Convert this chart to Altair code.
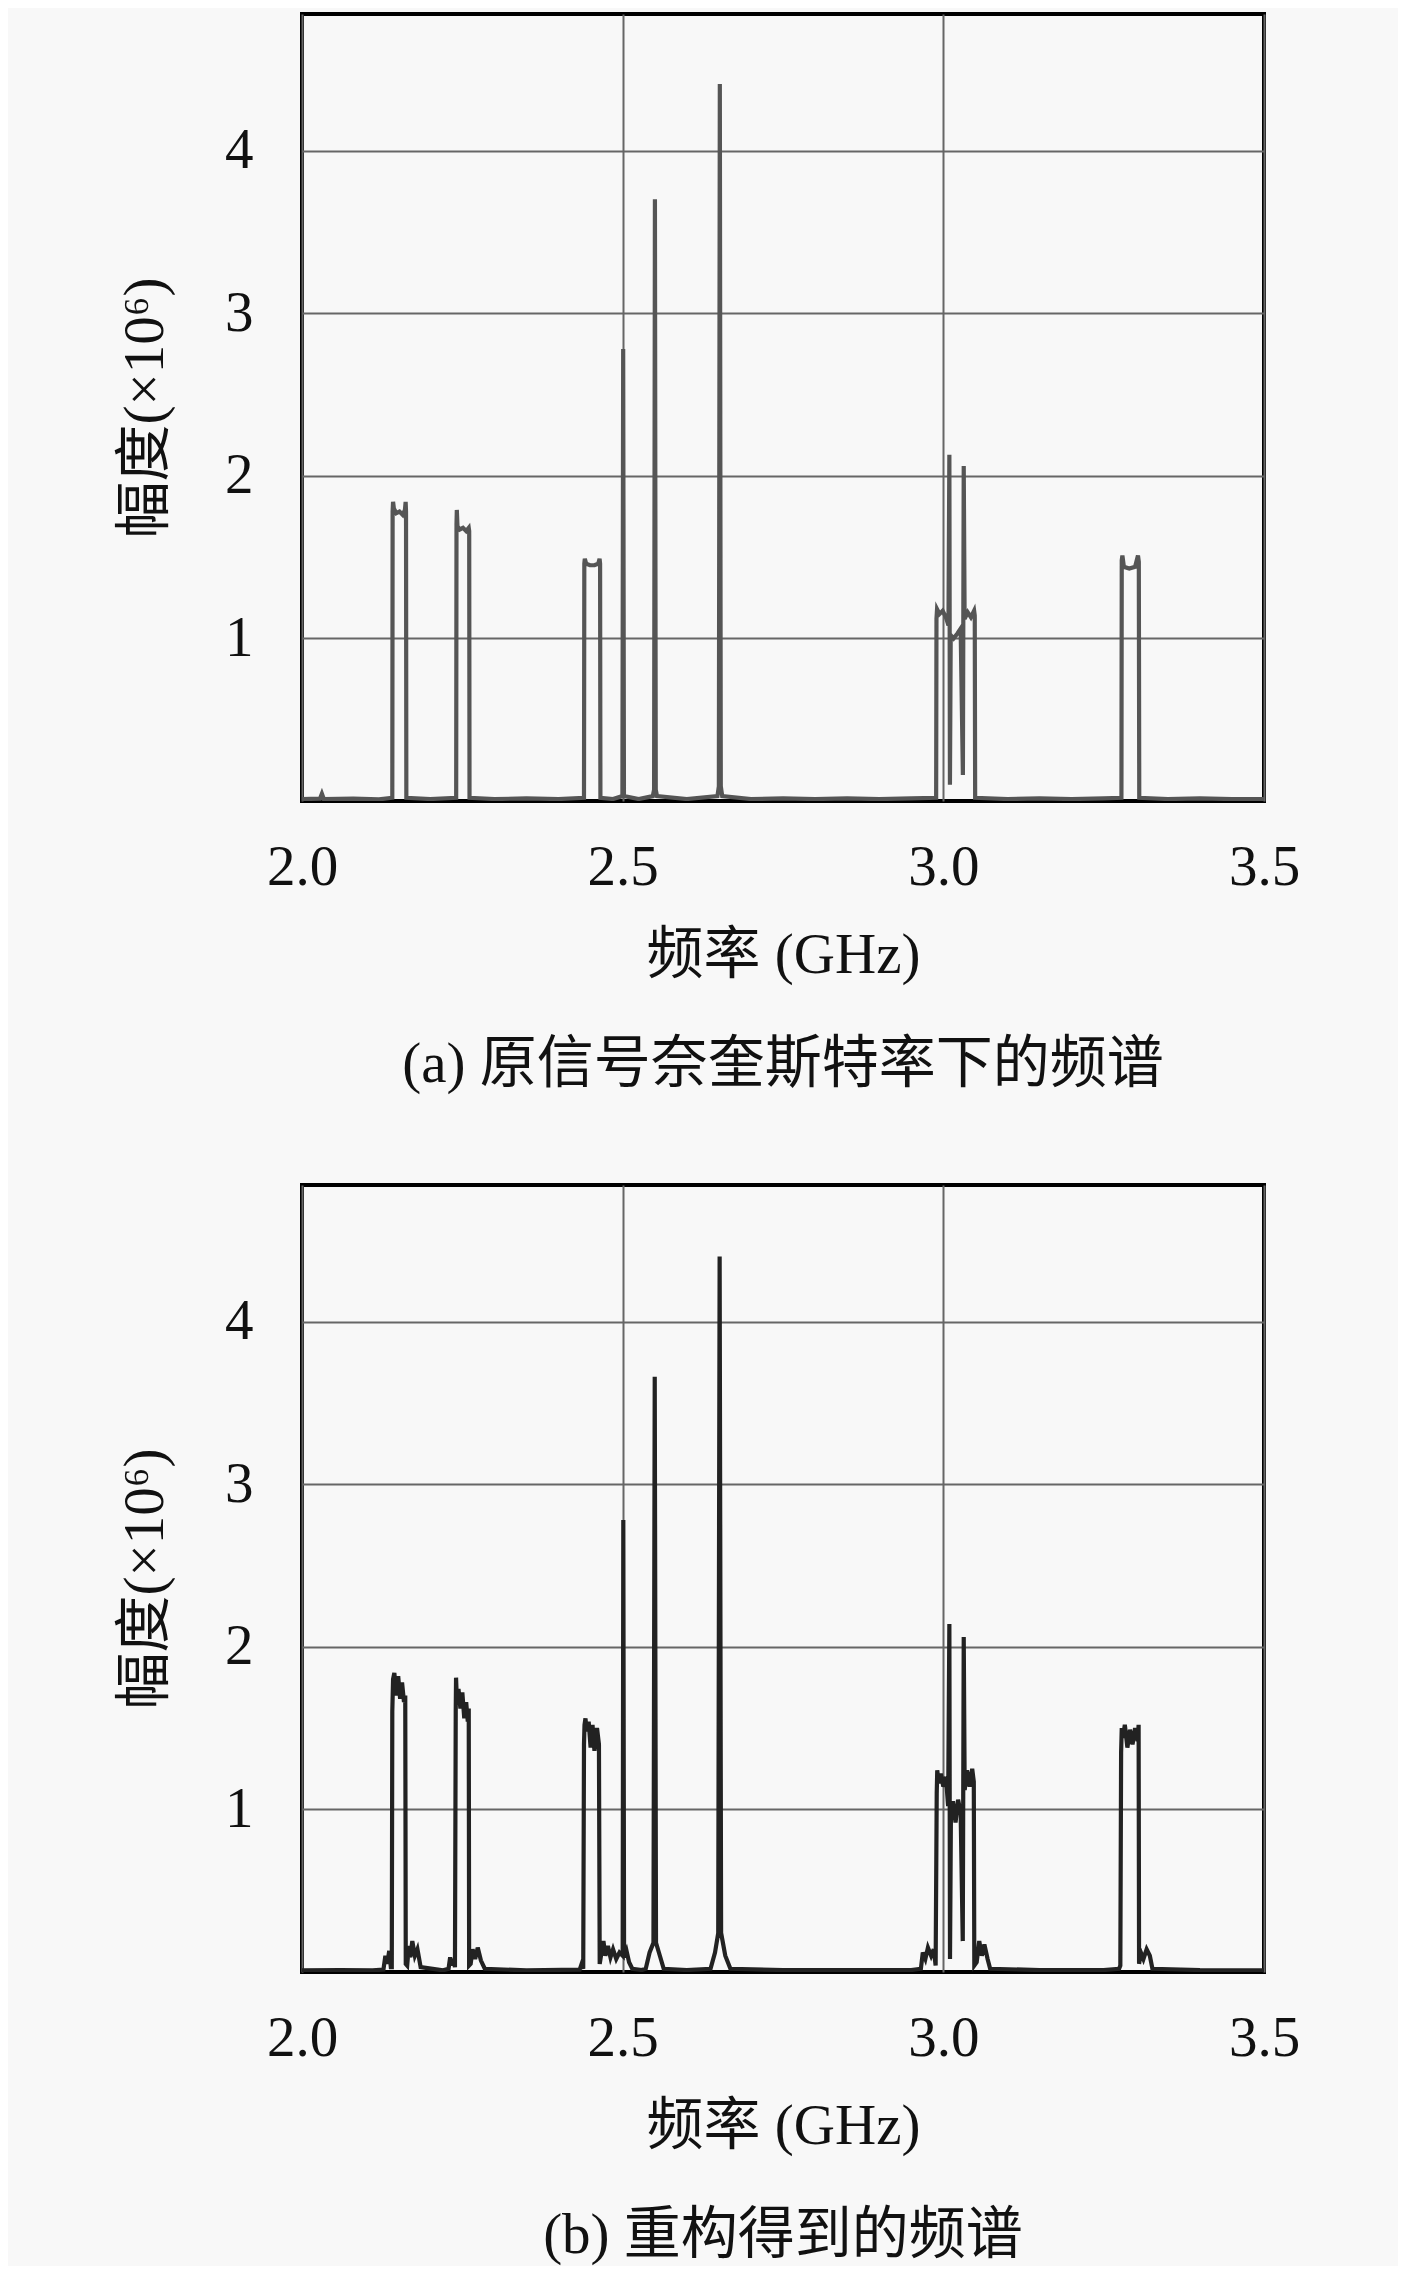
import altair as alt
import pandas as pd

# ---------------- data ----------------
x_ticks = [2.0, 2.5, 3.0, 3.5]
y_ticks = [1, 2, 3, 4]
x_title = "频率 (GHz)"
y_title = "幅度(×10⁶)"
caption_a = "(a) 原信号奈奎斯特率下的频谱"
caption_b = "(b) 重构得到的频谱"

# (a) spectrum at Nyquist rate
freq_a = [
    2.000, 2.028, 2.031, 2.034, 2.080, 2.120,
    2.1408, 2.1413, 2.1420, 2.1432, 2.1470, 2.1520, 2.1570, 2.1605, 2.1616, 2.1622, 2.1627,
    2.200,
    2.2404, 2.2409, 2.2414, 2.2424, 2.2460, 2.2510, 2.2560, 2.2600, 2.2607, 2.2612,
    2.300, 2.350, 2.400,
    2.4397, 2.4402, 2.4410, 2.4430, 2.4490, 2.4560, 2.4620, 2.4640, 2.4648, 2.4653,
    2.485, 2.4996, 2.5008, 2.5020, 2.525,
    2.5470, 2.5490, 2.5503, 2.5516, 2.5535, 2.600,
    2.6478, 2.6500, 2.6515, 2.6530, 2.6552,
    2.700, 2.750, 2.800, 2.850, 2.900, 2.950,
    2.9888, 2.9893, 2.9902, 2.9940, 2.9990, 3.0040, 3.0080, 3.0094, 3.0103, 3.0115,
    3.0160, 3.0220, 3.0270, 3.0305, 3.0318, 3.0332, 3.0380, 3.0430, 3.0480, 3.0490, 3.0496,
    3.100, 3.150, 3.200, 3.250,
    3.2777, 3.2782, 3.2792, 3.2815, 3.2900, 3.2990, 3.3035, 3.3048, 3.3055,
    3.350, 3.400, 3.450, 3.500,
]
amp_a = [
    0.012, 0.014, 0.045, 0.012, 0.015, 0.010,
    0.020, 1.78, 1.84, 1.80, 1.77, 1.78, 1.76, 1.79, 1.84, 1.78, 0.020,
    0.012,
    0.020, 1.70, 1.79, 1.69, 1.67, 1.68, 1.66, 1.68, 1.66, 0.020,
    0.012, 0.016, 0.012,
    0.020, 1.46, 1.49, 1.46, 1.45, 1.45, 1.46, 1.49, 1.46, 0.020,
    0.012, 0.030, 2.78, 0.030, 0.012,
    0.030, 0.070, 3.70, 0.070, 0.030, 0.012,
    0.030, 0.090, 4.41, 0.090, 0.030,
    0.012, 0.016, 0.012, 0.016, 0.012, 0.016,
    0.020, 1.12, 1.18, 1.15, 1.17, 1.13, 1.08, 2.13, 0.10, 1.02,
    1.00, 1.03, 1.06, 0.16, 2.06, 1.12, 1.16, 1.13, 1.17, 1.14, 0.020,
    0.012, 0.016, 0.012, 0.016,
    0.020, 1.48, 1.51, 1.44, 1.43, 1.44, 1.51, 1.47, 0.020,
    0.012, 0.016, 0.012, 0.012,
]

# (b) reconstructed spectrum
freq_b = [
    2.000, 2.060, 2.110,
    2.1270, 2.1300, 2.1330, 2.1360, 2.1385, 2.1400,
    2.1408, 2.1420, 2.1440, 2.1470, 2.1500, 2.1530, 2.1560, 2.1590, 2.1610, 2.1618,
    2.1640, 2.1665, 2.1690, 2.1720, 2.1760, 2.1800, 2.1850,
    2.220, 2.2285, 2.2310, 2.2335, 2.2360, 2.2385,
    2.2397, 2.2402, 2.2412, 2.2440, 2.2470, 2.2500, 2.2530, 2.2560, 2.2585, 2.2600, 2.2606,
    2.2630, 2.2660, 2.2700, 2.2740, 2.2790, 2.2850,
    2.350, 2.4330, 2.4360, 2.4385,
    2.4397, 2.4405, 2.4420, 2.4440, 2.4470, 2.4500, 2.4530, 2.4560, 2.4600, 2.4630, 2.4642,
    2.4670, 2.4700, 2.4730, 2.4770, 2.4810, 2.4850, 2.4900, 2.4950, 2.5000,
    2.5010, 2.5022, 2.5060, 2.5100, 2.5150,
    2.530, 2.5360, 2.5420, 2.5480, 2.5500, 2.5520, 2.5580, 2.5640,
    2.600, 2.6370, 2.6440, 2.6490, 2.6512, 2.6535, 2.6600, 2.6680,
    2.750, 2.850, 2.950,
    2.9650, 2.9680, 2.9720, 2.9760, 2.9810, 2.9850, 2.9880,
    2.9897, 2.9905, 2.9930, 2.9960, 3.0000, 3.0040, 3.0075, 3.0094, 3.0104, 3.0118,
    3.0150, 3.0190, 3.0230, 3.0270, 3.0303, 3.0318, 3.0333, 3.0370, 3.0410, 3.0450,
    3.0475, 3.0483,
    3.0520, 3.0560, 3.0600, 3.0640, 3.0690, 3.0730,
    3.150, 3.250, 3.2740, 3.2760,
    3.2772, 3.2782, 3.2800, 3.2830, 3.2870, 3.2910, 3.2950, 3.2990, 3.3030, 3.3045, 3.3052,
    3.3080, 3.3120, 3.3170, 3.3220, 3.3260,
    3.400, 3.500,
]
amp_b = [
    0.010, 0.012, 0.010,
    0.015, 0.10, 0.05, 0.13, 0.03, 0.03,
    1.60, 1.80, 1.84, 1.70, 1.82, 1.68, 1.78, 1.66, 1.70, 0.05,
    0.04, 0.16, 0.09, 0.19, 0.10, 0.14, 0.03,
    0.010, 0.02, 0.09, 0.04, 0.08, 0.03,
    1.60, 1.81, 1.70, 1.74, 1.62, 1.72, 1.56, 1.66, 1.54, 1.62, 0.04,
    0.05, 0.14, 0.08, 0.15, 0.07, 0.02,
    0.010, 0.015, 0.05, 0.02,
    1.40, 1.52, 1.56, 1.48, 1.54, 1.38, 1.52, 1.36, 1.50, 1.40, 0.05,
    0.12, 0.19, 0.10, 0.16, 0.09, 0.14, 0.08, 0.12, 0.10,
    2.78, 0.09, 0.13, 0.06, 0.02,
    0.012, 0.02, 0.12, 0.18, 3.66, 0.18, 0.10, 0.02,
    0.012, 0.02, 0.12, 0.24, 4.40, 0.24, 0.10, 0.02,
    0.012, 0.012, 0.012,
    0.02, 0.12, 0.08, 0.15, 0.10, 0.14, 0.04,
    1.10, 1.24, 1.16, 1.22, 1.14, 1.20, 1.02, 2.14, 0.08, 0.95,
    1.05, 0.92, 1.06, 0.98, 0.19, 2.06, 1.12, 1.24, 1.14, 1.25,
    1.17, 0.04,
    0.06, 0.19, 0.10, 0.17, 0.08, 0.02,
    0.012, 0.012, 0.02, 0.04,
    1.35, 1.50, 1.44, 1.52, 1.38, 1.49, 1.40, 1.50, 1.42, 1.52, 0.05,
    0.12, 0.08, 0.14, 0.10, 0.02,
    0.012, 0.010,
]

SERIF = "Liberation Serif, Noto Sans CJK SC"
FS = 57
BG = "#f8f8f8"


def panel(freq, amp, color, caption):
    df = pd.DataFrame({"f": freq, "a": amp, "i": list(range(len(freq)))})
    return (
        alt.Chart(df)
        .mark_line(color=color, strokeWidth=4.2, clip=True)
        .encode(
            x=alt.X(
                "f:Q",
                scale=alt.Scale(domain=[2.0, 3.5], nice=False, zero=False),
                axis=alt.Axis(values=x_ticks, format=".1f", title=x_title,
                              labelFlush=False, labelPadding=38, titlePadding=32),
            ),
            y=alt.Y(
                "a:Q",
                scale=alt.Scale(domain=[0, 4.84], nice=False),
                axis=alt.Axis(values=y_ticks, format="d", title=y_title,
                              labelFlush=False, labelPadding=49, titlePadding=50),
            ),
            order="i:Q",
        )
        .properties(
            width=962,
            height=787,
            title=alt.TitleParams(caption, orient="bottom", offset=54,
                                  font=SERIF, fontSize=FS, fontWeight="normal",
                                  color="#111111"),
        )
    )


chart = (
    alt.vconcat(
        panel(freq_a, amp_a, "#555555", caption_a),
        panel(freq_b, amp_b, "#222222", caption_b),
        spacing=88,
    )
    .properties(background=BG,
                padding={"left": 106, "top": 4, "right": 96, "bottom": 0})
    .configure_view(stroke="#000000", strokeWidth=4, fill=BG)
    .configure_axis(
        domain=False,
        ticks=False,
        tickSize=0,
        grid=True,
        gridColor="#666666",
        gridWidth=2,
        labelFont=SERIF,
        labelFontSize=FS,
        labelColor="#111111",
        titleFont=SERIF,
        titleFontSize=FS,
        titleFontWeight="normal",
        titleColor="#111111",
    )
)

chart.save("out.html", embed_options={"renderer": "svg", "actions": False})
